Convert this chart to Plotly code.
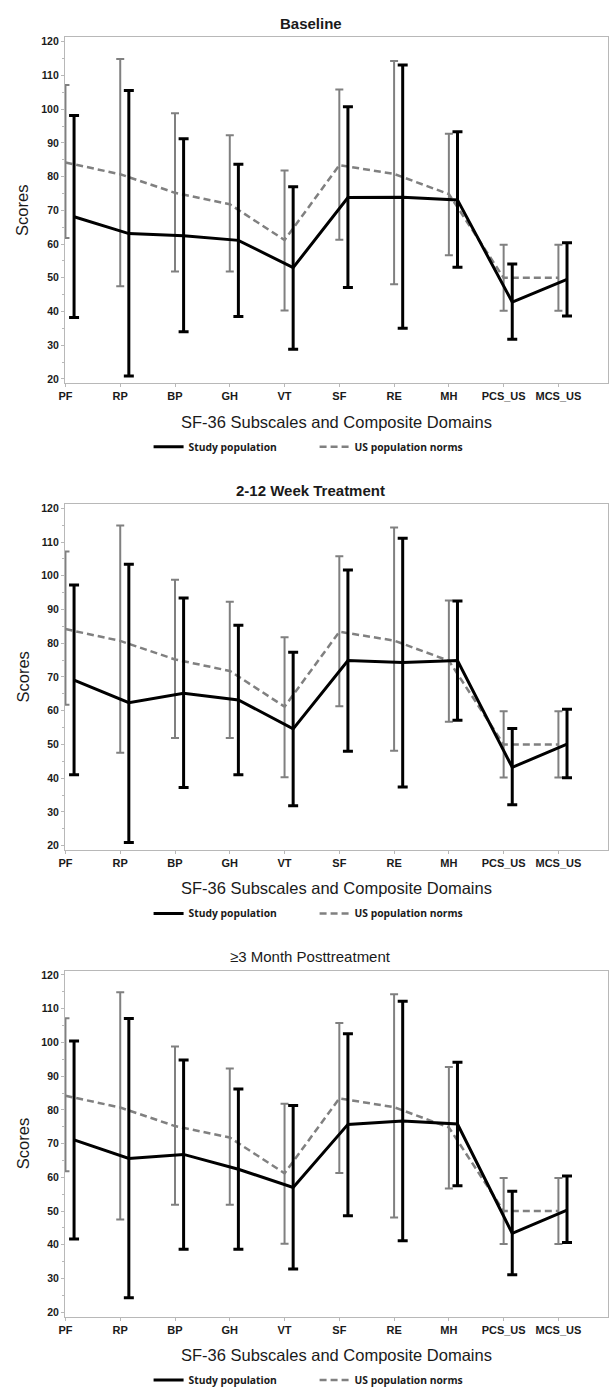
import plotly.graph_objects as go

# ---------------- data ----------------
categories = ["PF", "RP", "BP", "GH", "VT", "SF", "RE", "MH", "PCS_US", "MCS_US"]
y_ticks = [20, 30, 40, 50, 60, 70, 80, 90, 100, 110, 120]

panel_titles = ["Baseline", "2-12 Week Treatment", "\u22653 Month Posttreatment"]
x_title = "SF-36 Subscales and Composite Domains"
y_title = "Scores"
study_label = "Study population"
norm_label = "US population norms"

# US population norms (mean, lower and upper ends of the bars)
norm_mean = [84.2, 80.7, 75.2, 71.8, 61.2, 83.4, 80.8, 74.8, 50.0, 50.0]
norm_low = [61.8, 47.5, 51.9, 51.9, 40.3, 61.3, 48.1, 56.7, 40.2, 40.2]
norm_high = [107.2, 114.9, 98.8, 92.3, 81.8, 105.8, 114.3, 92.7, 59.8, 59.8]

# Study population - Baseline
baseline_mean = [68.1, 63.1, 62.5, 61.1, 53.0, 73.8, 73.9, 73.1, 42.8, 49.5]
baseline_low = [38.2, 20.9, 34.0, 38.5, 28.8, 47.1, 35.0, 53.1, 31.8, 38.7]
baseline_high = [98.1, 105.5, 91.2, 83.7, 77.0, 100.7, 113.1, 93.3, 54.1, 60.4]

# Study population - 2-12 week treatment
week_mean = [69.1, 62.4, 65.2, 63.2, 54.6, 74.9, 74.3, 74.9, 43.2, 50.1]
week_low = [41.0, 20.9, 37.2, 41.0, 31.8, 48.0, 37.4, 57.2, 32.1, 40.1]
week_high = [97.3, 103.4, 93.4, 85.3, 77.3, 101.7, 111.1, 92.5, 54.7, 60.4]

# Study population - >=3 month posttreatment
post_mean = [71.1, 65.6, 66.8, 62.4, 57.0, 75.7, 76.7, 75.8, 43.4, 50.3]
post_low = [41.7, 24.3, 38.7, 38.7, 32.8, 48.6, 41.2, 57.5, 31.1, 40.7]
post_high = [100.4, 107.1, 94.8, 86.2, 81.3, 102.6, 112.2, 94.1, 55.9, 60.4]

study_sets = [
    (baseline_mean, baseline_low, baseline_high),
    (week_mean, week_low, week_high),
    (post_mean, post_low, post_high),
]

# ---------------- geometry / style ----------------
W, H = 609, 1395
PANEL_STEP = 470
PLOT_LEFT, PLOT_RIGHT = 59.5, 607.7
PLOT_TOP, PLOT_BOTTOM = 35.7, 384.0
STUDY_SHIFT = 0.157

GREY = "#808080"
AXIS_GREY = "#b8b8b8"
TEXT = "#1a1a1a"
FONT = "Liberation Sans, Arial, sans-serif"


def py(px):
    return 1 - px / H


idx = list(range(len(categories)))

fig = go.Figure()
layout = {}

for i in range(3):
    n = "" if i == 0 else str(i + 1)
    xa, ya = "x" + n, "y" + n
    leg = "legend" + n
    off = PANEL_STEP * i
    mean, low, high = study_sets[i]

    fig.add_trace(go.Scatter(
        x=idx, y=norm_mean, mode="lines", name=norm_label,
        line=dict(color=GREY, width=2.5, dash="7px,4px"),
        error_y=dict(type="data", symmetric=False,
                     array=[h - m for h, m in zip(norm_high, norm_mean)],
                     arrayminus=[m - l for m, l in zip(norm_mean, norm_low)],
                     color=GREY, thickness=2, width=4),
        xaxis=xa, yaxis=ya, legend=leg, legendrank=2, hoverinfo="skip",
    ))
    fig.add_trace(go.Scatter(
        x=[k + STUDY_SHIFT for k in idx], y=mean, mode="lines", name=study_label,
        line=dict(color="black", width=3),
        error_y=dict(type="data", symmetric=False,
                     array=[h - m for h, m in zip(high, mean)],
                     arrayminus=[m - l for m, l in zip(mean, low)],
                     color="black", thickness=3, width=5),
        xaxis=xa, yaxis=ya, legend=leg, legendrank=1, hoverinfo="skip",
    ))

    layout["xaxis" + n] = dict(
        domain=[PLOT_LEFT / W, PLOT_RIGHT / W], anchor=ya,
        range=[-0.01, 9.9], tickmode="array", tickvals=idx, ticktext=categories,
        showline=True, linecolor=AXIS_GREY, linewidth=1, mirror=True,
        ticks="outside", ticklen=3, tickcolor=AXIS_GREY,
        tickfont=dict(family=FONT, size=11, color=TEXT, weight="bold"),
        showgrid=False, zeroline=False, fixedrange=True,
    )
    layout["yaxis" + n] = dict(
        domain=[py(PLOT_BOTTOM + off), py(PLOT_TOP + off)], anchor=xa,
        range=[18.73, 121.27], tickmode="array", tickvals=y_ticks,
        showline=True, linecolor=AXIS_GREY, linewidth=1, mirror=True,
        ticks="outside", ticklen=3, tickcolor=AXIS_GREY,
        minor=dict(dtick=5, tick0=0, ticks="outside", ticklen=2, tickcolor=AXIS_GREY),
        tickfont=dict(family=FONT, size=10.5, color=TEXT, weight="bold"),
        showgrid=False, zeroline=False, fixedrange=True,
    )
    layout[leg] = dict(
        orientation="h", x=144 / W, xanchor="left",
        y=py(448 + off), yanchor="middle",
        entrywidth=121, entrywidthmode="pixels",
        font=dict(family="Open Sans, sans-serif", size=10.3, color=TEXT, weight="bold"),
        bgcolor="rgba(0,0,0,0)", itemclick=False, itemdoubleclick=False,
        tracegroupgap=0,
    )

annotations = []
for i in range(3):
    off = PANEL_STEP * i
    annotations.append(dict(
        text=panel_titles[i], xref="paper", yref="paper",
        x=0.505, y=py(21.7 + off), xanchor="center", yanchor="middle",
        showarrow=False,
        font=dict(family=FONT, size=15, color=TEXT, weight="bold" if i < 2 else "normal"),
    ))
    annotations.append(dict(
        text=x_title, xref="paper", yref="paper",
        x=(PLOT_LEFT + PLOT_RIGHT) / 2 / W, y=py(422.7 + off),
        xanchor="center", yanchor="middle", showarrow=False,
        font=dict(family=FONT, size=16.5, color=TEXT),
    ))
    annotations.append(dict(
        text=y_title, xref="paper", yref="paper",
        x=16.7 / W, y=py((PLOT_TOP + PLOT_BOTTOM) / 2 + off),
        xanchor="center", yanchor="middle", textangle=-90, showarrow=False,
        font=dict(family=FONT, size=16.5, color=TEXT),
    ))

fig.update_layout(
    width=W, height=H,
    margin=dict(l=0, r=0, t=0, b=0),
    paper_bgcolor="white", plot_bgcolor="white",
    showlegend=True,
    annotations=annotations,
    **layout,
)

fig.write_html(
    "out.html",
    config={"displayModeBar": False},
    post_script="document.body.style.margin='0';document.body.style.padding='0';"
                "document.documentElement.style.overflow='hidden';",
)
